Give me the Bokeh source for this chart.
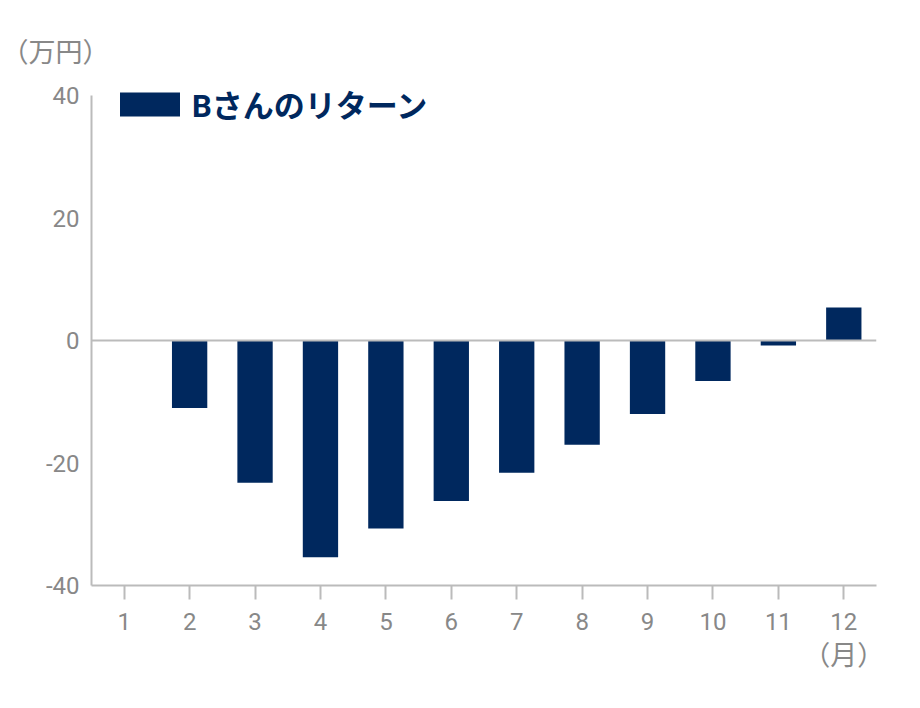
from bokeh.plotting import figure
from bokeh.models import ColumnDataSource, Span, Legend, LegendItem, FixedTicker, LinearAxis
from bokeh.embed import file_html
from bokeh.resources import INLINE

# data (万円)
months = [1, 2, 3, 4, 5, 6, 7, 8, 9, 10, 11, 12]
returns = [0.0, -11.0, -23.2, -35.4, -30.7, -26.2, -21.6, -17.0, -12.0, -6.6, -0.8, 5.4]
y_ticks = [-40, -20, 0, 20, 40]
series_name = "Bさんのリターン"
y_unit = "（万円）"
x_unit = "（月）"

NAVY = "#00285E"
GRAY_TEXT = "#888888"
GRAY_LINE = "#BBBBBB"
FONT = "Roboto, 'Noto Sans CJK JP'"

p = figure(
    width=904, height=692,
    x_range=(0.5, 12.5), y_range=(-40, 41.5),
    output_backend="svg", toolbar_location=None,
    min_border_left=91, min_border_right=28,
    min_border_top=86, min_border_bottom=107,
    title=y_unit,
)
p.outline_line_color = None
p.grid.grid_line_color = None
p.background_fill_color = "white"
p.border_fill_color = "white"

# unit of y as title, pulled to the left edge
p.title.align = "left"
p.title.offset = -90
p.title.standoff = 36
p.title.text_font = FONT
p.title.text_font_size = "27px"
p.title.text_font_style = "normal"
p.title.text_color = GRAY_TEXT

source = ColumnDataSource(data=dict(month=months, value=returns))
bars = p.vbar(x="month", top="value", bottom=0, width=0.54, source=source,
              fill_color=NAVY, line_color=NAVY, line_width=0)

# zero line
p.add_layout(Span(location=0, dimension="width", line_color=GRAY_LINE, line_width=2))

# axes styling
p.xaxis.ticker = FixedTicker(ticks=months)
p.yaxis.ticker = FixedTicker(ticks=y_ticks)
p.yaxis.bounds = (y_ticks[0], y_ticks[-1])
p.yaxis.major_label_overrides = {t: str(t) for t in y_ticks if t < 0}
for ax in (p.xaxis, p.yaxis):
    ax.axis_line_color = GRAY_LINE
    ax.axis_line_width = 2
    ax.major_label_text_color = GRAY_TEXT
    ax.major_label_text_font = FONT
    ax.major_label_text_font_size = "24px"
    ax.minor_tick_line_color = None
p.yaxis.major_tick_line_color = None
p.yaxis.major_label_standoff = 6
p.xaxis.major_tick_line_color = GRAY_LINE
p.xaxis.major_tick_line_width = 2
p.xaxis.major_tick_in = 0
p.xaxis.major_tick_out = 14
p.xaxis.major_label_standoff = 13

# unit of x as a second, bare axis under the month labels
unit_axis = LinearAxis(ticker=FixedTicker(ticks=[months[-1]]),
                       major_label_overrides={months[-1]: x_unit})
unit_axis.axis_line_color = None
unit_axis.major_tick_line_color = None
unit_axis.minor_tick_line_color = None
unit_axis.major_label_standoff = 1
unit_axis.major_label_text_color = GRAY_TEXT
unit_axis.major_label_text_font = FONT
unit_axis.major_label_text_font_size = "27px"
p.add_layout(unit_axis, "below")

# legend
legend = Legend(items=[LegendItem(label=series_name, renderers=[bars])],
                location=(21, 459), orientation="vertical",
                glyph_width=75, glyph_height=30, label_standoff=5,
                padding=0, margin=0, spacing=0,
                border_line_color=None, background_fill_alpha=0,
                label_text_font=FONT, label_text_font_size="31px",
                label_text_font_style="bold", label_text_color=NAVY)
p.add_layout(legend, "center")

open("out.html", "w").write(file_html(p, INLINE))
